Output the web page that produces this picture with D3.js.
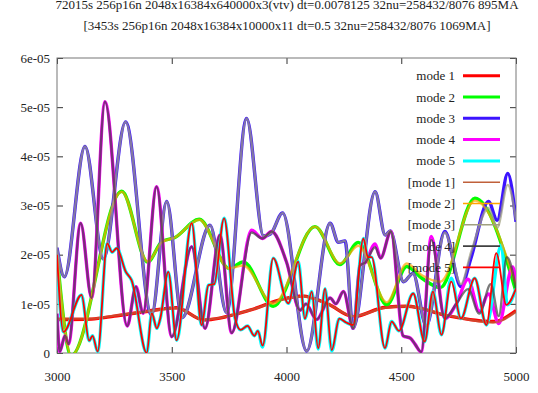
<!DOCTYPE html>
<html>
<head>
<meta charset="utf-8">
<script src="https://cdn.jsdelivr.net/npm/d3@7"></script>
<style>
  body { margin: 0; background: #fff; }
  text { font-family: "Liberation Serif", "Times New Roman", serif; fill: #222; }
</style>
</head>
<body>
<div id="vis-holder"></div>
<script>
// Chart data (y values in units of 1e-05)
const titleLines = [
  "72015s 256p16n 2048x16384x640000x3(vtv)  dt=0.0078125 32nu=258432/8076 895MA",
  "[3453s 256p16n 2048x16384x10000x11  dt=0.5 32nu=258432/8076 1069MA]"
];
const xTicks = [3000, 3500, 4000, 4500, 5000];
const yTicks = [0, 1, 2, 3, 4, 5, 6];
const yTickLabels = ["0", "1e-05", "2e-05", "3e-05", "4e-05", "5e-05", "6e-05"];

const mode1 = [[3000,0.68],[3150,0.69],[3250,0.75],[3380,0.84],[3520,0.92],[3640,0.67],[3840,0.87],[3986,1.10],[4070,1.16],[4180,1.0],[4291,0.74],[4430,0.93],[4524,0.95],[4700,0.76],[4900,0.64],[5000,0.86]];
const mode2 = [[3000,2.0],[3062,-0.05],[3282,3.29],[3395,1.85],[3456,2.26],[3514,2.35],[3620,2.72],[3750,1.72],[3812,1.85],[3942,0.95],[4124,2.57],[4233,1.80],[4313,2.25],[4437,0.98],[4524,1.76],[4590,1.52],[4670,1.33],[4821,3.15],[5000,1.25]];
const mode3 = [[3000,2.14],[3032,1.55],[3122,4.20],[3202,1.91],[3299,4.70],[3412,0.77],[3478,3.08],[3545,0.72],[3667,2.60],[3739,0.82],[3826,4.77],[3900,2.38],[3930,2.42],[3983,2.85],[4088,0.04],[4190,2.64],[4226,2.25],[4255,2.28],[4290,0.50],[4386,3.28],[4430,2.40],[4452,2.48],[4510,1.45],[4551,1.62],[4609,0.55],[4690,2.47],[4760,1.35],[4805,1.95],[4880,3.08],[4918,2.70],[4964,3.65],[5000,2.67]];
const mode4 = [[3000,0.8],[3012,0.03],[3035,0.35],[3050,0.18],[3103,2.64],[3151,1.12],[3209,5.11],[3306,0.55],[3344,1.35],[3375,0.81],[3434,3.38],[3500,0.33],[3587,2.16],[3645,0.5],[3710,2.40],[3761,0.41],[3848,2.50],[3895,2.33],[3935,2.47],[4000,1.85],[4059,0.87],[4085,1.0],[4131,0.68],[4190,1.12],[4215,1.0],[4248,1.25],[4291,0.50],[4320,1.78],[4345,1.85],[4386,2.22],[4410,1.93],[4455,2.47],[4508,0.35],[4540,0.30],[4560,0.18],[4587,0.02],[4631,2.37],[4690,0.70],[4740,1.0],[4791,1.50],[4840,0.85],[4880,1.20],[4925,0.60],[4985,1.75],[5000,1.45]];
const mode5 = [[3000,2.0],[3028,0.43],[3107,1.18],[3140,0.25],[3155,0.35],[3177,0.03],[3219,2.23],[3240,2.05],[3260,2.13],[3300,1.65],[3325,1.48],[3391,0.0],[3413,0.81],[3435,0.5],[3450,0.7],[3485,1.65],[3521,0.26],[3587,2.64],[3630,0.57],[3660,1.38],[3685,1.4],[3728,2.74],[3776,0.7],[3800,0.47],[3830,0.55],[3860,0.35],[3875,0.45],[3896,0.12],[3942,1.93],[4008,1.01],[4051,1.86],[4080,0.7],[4110,1.25],[4138,0.08],[4168,1.31],[4197,0.04],[4230,0.7],[4260,0.62],[4290,0.57],[4335,2.33],[4355,1.95],[4371,1.95],[4429,0.1],[4458,0.64],[4490,0.45],[4552,1.21],[4602,0.23],[4638,1.25],[4675,0.37],[4718,1.52],[4760,0.7],[4820,1.52],[4871,0.57],[4936,2.20],[4962,0.98],[5000,1.31]];

const mode1b = [[3000,0.70],[3150,0.70],[3250,0.76],[3380,0.84],[3520,0.91],[3640,0.68],[3840,0.87],[3986,1.09],[4070,1.15],[4180,1.0],[4291,0.75],[4430,0.92],[4524,0.95],[4700,0.77],[4900,0.62],[5000,0.84]];
const mode2b = [[3000,2.0],[3062,-0.05],[3282,3.28],[3395,1.86],[3456,2.25],[3514,2.35],[3620,2.71],[3750,1.72],[3812,1.78],[3942,1.0],[4124,2.57],[4233,1.82],[4313,2.18],[4437,1.03],[4524,1.82],[4590,1.58],[4670,1.45],[4821,3.10],[5000,1.38]];
const mode3b = [[3000,2.14],[3032,1.55],[3122,4.20],[3202,1.91],[3299,4.70],[3412,0.77],[3478,3.08],[3545,0.72],[3667,2.60],[3739,0.82],[3826,4.77],[3900,2.38],[3930,2.42],[3983,2.85],[4088,0.04],[4190,2.64],[4226,2.25],[4255,2.28],[4290,0.50],[4386,3.28],[4430,2.40],[4452,2.48],[4510,1.45],[4551,1.62],[4609,0.55],[4690,2.45],[4760,1.40],[4805,2.06],[4880,2.95],[4918,2.55],[4964,3.42],[5000,2.70]];
const mode4b = [[3000,0.8],[3012,0.03],[3035,0.35],[3050,0.18],[3103,2.64],[3151,1.12],[3209,5.11],[3306,0.55],[3344,1.35],[3375,0.81],[3434,3.38],[3500,0.33],[3587,2.16],[3645,0.5],[3710,2.40],[3761,0.41],[3848,2.45],[3895,2.33],[3935,2.47],[4000,1.85],[4059,0.87],[4085,1.0],[4131,0.68],[4190,1.12],[4215,1.0],[4248,1.25],[4291,0.50],[4320,1.78],[4345,1.85],[4386,2.15],[4410,1.93],[4455,2.47],[4508,0.35],[4540,0.30],[4560,0.18],[4587,0.02],[4631,2.30],[4690,0.70],[4740,1.0],[4791,1.30],[4840,0.80],[4890,1.40],[4925,0.75],[4960,1.95],[5000,1.30]];
const mode5b = [[3000,2.0],[3028,0.43],[3107,1.18],[3140,0.25],[3155,0.35],[3177,0.03],[3219,2.23],[3240,2.05],[3260,2.13],[3300,1.65],[3325,1.48],[3391,0.0],[3413,0.81],[3435,0.5],[3450,0.7],[3485,1.65],[3521,0.26],[3587,2.64],[3630,0.57],[3660,1.38],[3685,1.4],[3728,2.74],[3776,0.7],[3800,0.47],[3830,0.55],[3860,0.35],[3875,0.45],[3896,0.15],[3942,1.93],[4008,1.01],[4051,1.86],[4080,0.7],[4110,1.25],[4138,0.1],[4168,1.31],[4197,0.06],[4230,0.7],[4260,0.62],[4290,0.57],[4335,2.33],[4355,1.95],[4371,1.95],[4429,0.1],[4458,0.64],[4490,0.45],[4552,1.21],[4602,0.23],[4638,1.25],[4675,0.37],[4718,1.45],[4760,0.7],[4820,1.52],[4871,0.57],[4914,2.03],[4958,0.98],[5000,1.31]];

// series in gnuplot draw order
const seriesNames = ["mode 1","mode 2","mode 3","mode 4","mode 5","[mode 1]","[mode 2]","[mode 3]","[mode 4]","[mode 5]"];
const seriesData = [mode1, mode2, mode3, mode4, mode5, mode1b, mode2b, mode3b, mode4b, mode5b];
const seriesColors = ["#ff0000","#00ff00","#3c14ff","#ff00ff","#00ffff","#c0603a","#ffa500","#a0a080","#404040","#ff0000"];
const keyWidths = [3, 3, 3, 3, 3, 1.6, 1.6, 1.6, 1.6, 1.6];
const curveWidths = [3.4, 3.4, 3.4, 3.4, 3.4, 2.4, 2.4, 2.4, 2.4, 1.8];
const curveOpacity = [1, 1, 1, 1, 1, 0.7, 0.7, 0.72, 0.7, 1];

// dimensions
const width = 538, height = 393;
const margin = { top: 58, right: 22, bottom: 40, left: 57 };

const svg = d3.select("#vis-holder")
  .append("svg")
  .attr("width", width)
  .attr("height", height);

const x = d3.scaleLinear()
  .domain([3000, 5000])
  .range([margin.left, width - margin.right]);

const y = d3.scaleLinear()
  .domain([0, 6])
  .range([height - margin.bottom, margin.top]);

// title (first line runs off the top edge, as in the original)
svg.selectAll(".title")
  .data(titleLines)
  .enter()
  .append("text")
  .attr("x", 287)
  .attr("y", (d, i) => 9 + i * 21)
  .attr("text-anchor", "middle")
  .attr("font-size", "13px")
  .text(d => d);

// clip for the curves
svg.append("clipPath")
  .attr("id", "plot-clip")
  .append("rect")
  .attr("x", margin.left)
  .attr("y", margin.top)
  .attr("width", x.range()[1] - x.range()[0])
  .attr("height", y.range()[0] - y.range()[1]);

// axes with inward ticks, mirrored
const tickLen = 6;
svg.append("g")
  .attr("transform", `translate(0,${y(0)})`)
  .call(d3.axisBottom(x).tickValues(xTicks).tickSize(-tickLen).tickPadding(19).tickFormat(d3.format("d")))
  .call(g => g.select(".domain").remove());
svg.append("g")
  .attr("transform", `translate(0,${y(6)})`)
  .call(d3.axisTop(x).tickValues(xTicks).tickSize(-tickLen).tickFormat(""))
  .call(g => g.select(".domain").remove());
svg.append("g")
  .attr("transform", `translate(${x(3000)},0)`)
  .call(d3.axisLeft(y).tickValues(yTicks).tickSize(-tickLen).tickPadding(7).tickFormat((d, i) => yTickLabels[i]))
  .call(g => g.select(".domain").remove());
svg.append("g")
  .attr("transform", `translate(${x(5000)},0)`)
  .call(d3.axisRight(y).tickValues(yTicks).tickSize(-tickLen).tickFormat(""))
  .call(g => g.select(".domain").remove());

svg.selectAll(".tick line").attr("stroke", "#333");
svg.selectAll(".tick text")
  .attr("font-size", "13px")
  .attr("font-family", "Liberation Serif, serif")
  .attr("fill", "#222");

// frame
svg.append("rect")
  .attr("x", x(3000))
  .attr("y", y(6))
  .attr("width", x(5000) - x(3000))
  .attr("height", y(0) - y(6))
  .attr("fill", "none")
  .attr("stroke", "#777")
  .attr("stroke-width", 1);

const line = d3.line()
  .x(d => x(d[0]))
  .y(d => y(d[1]))
  .curve(d3.curveMonotoneX);

const keyTextX = 455, keyX0 = 463, keyX1 = 500, keyY0 = 75.7, keyStep = 21.3;

seriesNames.forEach((name, i) => {
  // key entry, then its curve (so later curves run over earlier keys)
  const ky = keyY0 + i * keyStep;
  const k = svg.append("g");
  k.append("text")
    .attr("x", keyTextX)
    .attr("y", ky + 4.5)
    .attr("text-anchor", "end")
    .attr("font-size", "13px")
    .text(name);
  k.append("line")
    .attr("x1", keyX0).attr("x2", keyX1)
    .attr("y1", ky).attr("y2", ky)
    .attr("stroke", seriesColors[i])
    .attr("stroke-width", keyWidths[i]);

  svg.append("path")
    .datum(seriesData[i])
    .attr("clip-path", "url(#plot-clip)")
    .attr("fill", "none")
    .attr("stroke", seriesColors[i])
    .attr("stroke-width", curveWidths[i])
    .attr("stroke-opacity", curveOpacity[i])
    .attr("stroke-linejoin", "round")
    .attr("d", line);
});
</script>
</body>
</html>
